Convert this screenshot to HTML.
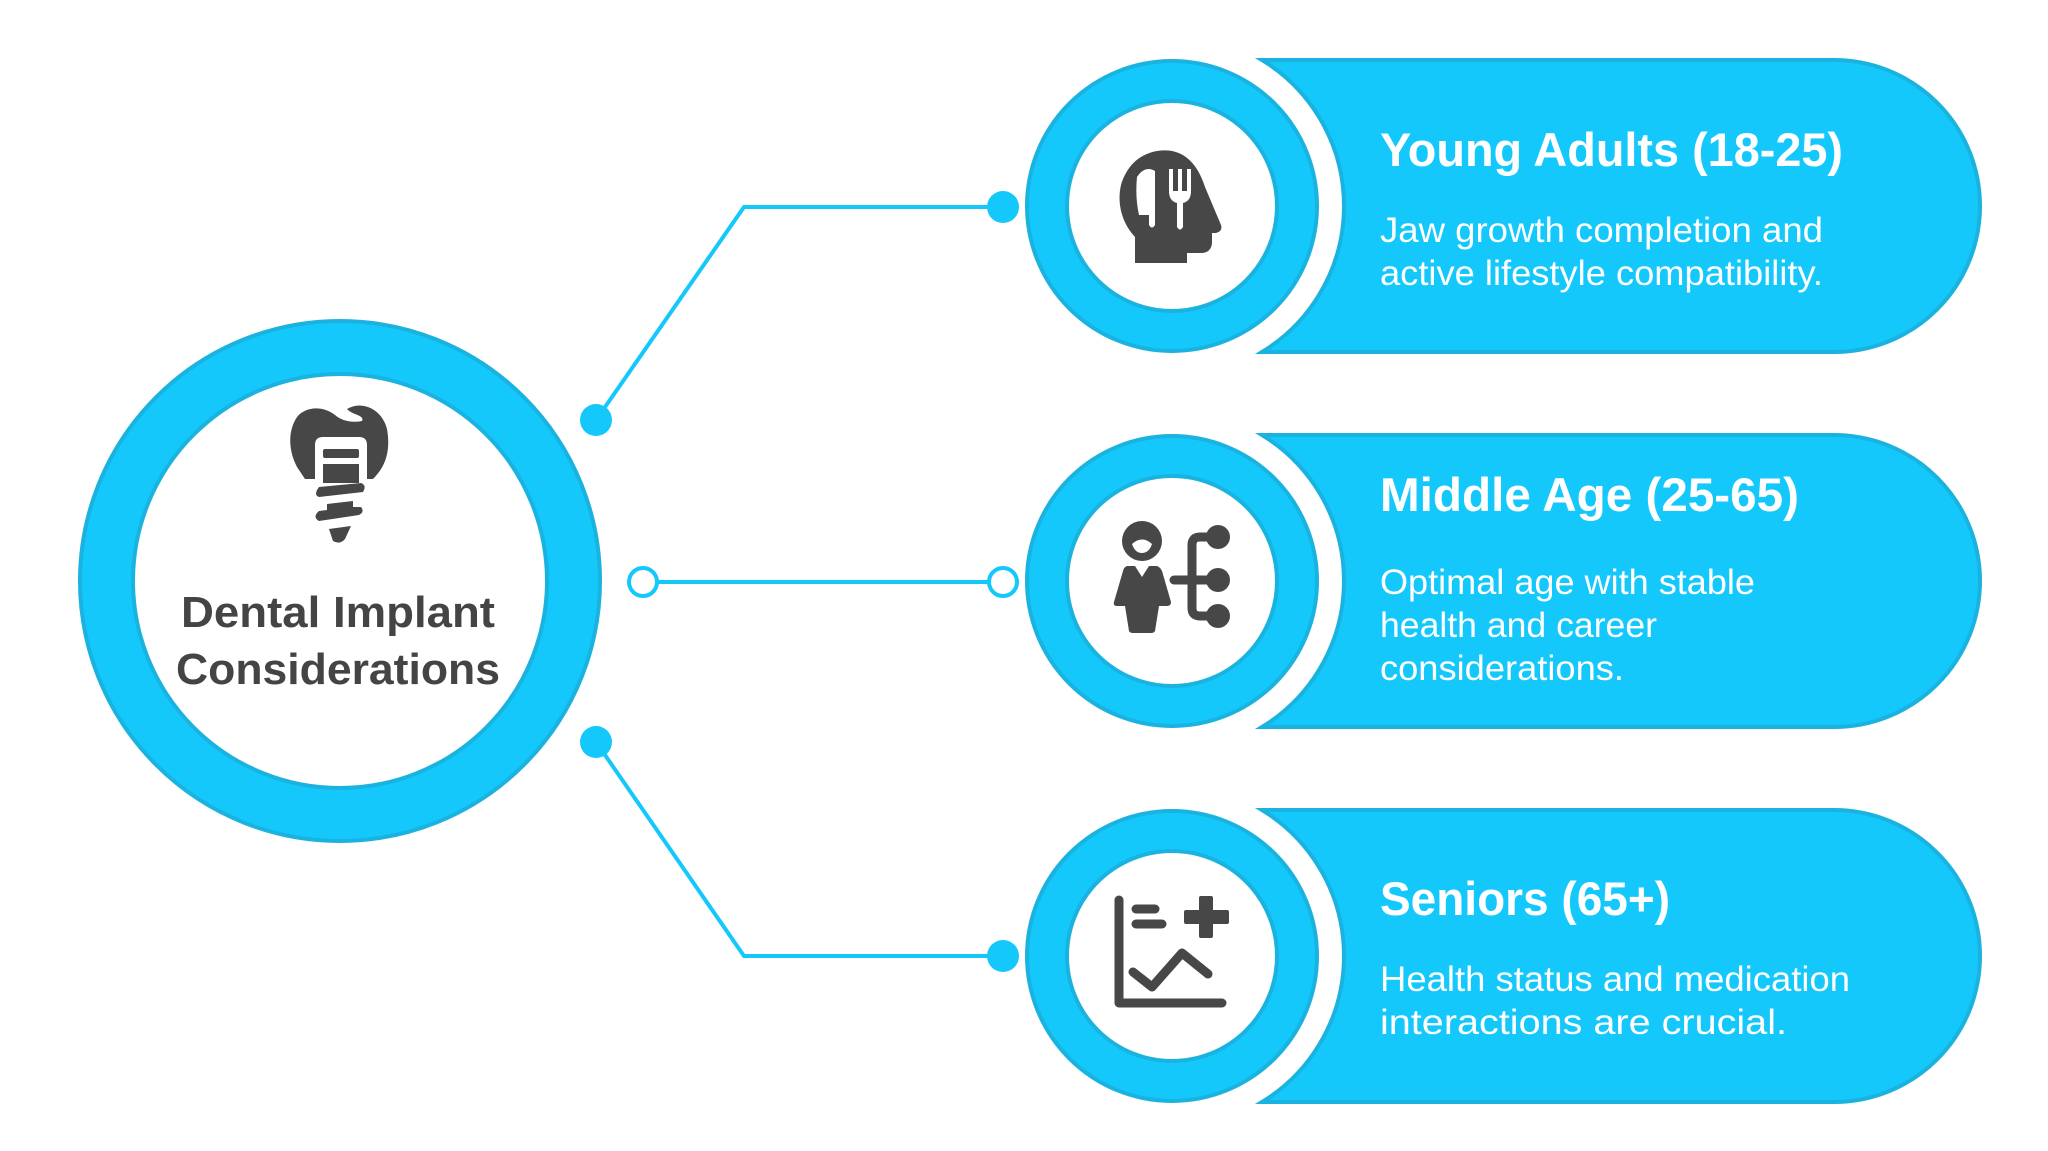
<!DOCTYPE html>
<html><head><meta charset="utf-8"><style>
html,body{margin:0;padding:0;background:#fff;}
svg{display:block}
text{font-family:"Liberation Sans",sans-serif;}
</style></head><body>
<svg width="2048" height="1151" viewBox="0 0 2048 1151" xmlns="http://www.w3.org/2000/svg">
<rect width="2048" height="1151" fill="#fff"/>
<g transform="translate(-3,-3)">
<g stroke="#14C8FC" stroke-width="4" fill="none">
<polyline points="599,423 747,210 1006,210"/>
<line x1="646" y1="585" x2="1006" y2="585"/>
<polyline points="599,745 747,959 1006,959"/>
</g>
<g fill="#14C8FC">
<circle cx="599" cy="423" r="16"/><circle cx="1006" cy="210" r="16"/>
<circle cx="599" cy="745" r="16"/><circle cx="1006" cy="959" r="16"/>
</g>
<circle cx="646" cy="585" r="14" fill="#fff" stroke="#14C8FC" stroke-width="4"/>
<circle cx="1006" cy="585" r="14" fill="#fff" stroke="#14C8FC" stroke-width="4"/>

<circle cx="343" cy="584" r="260" fill="#14C8FC" stroke="#1AB3E0" stroke-width="4"/>
<circle cx="343" cy="584" r="207" fill="#fff" stroke="#1AB3E0" stroke-width="4"/>
<g fill="#474747">
<path d="M300,420 C290,435 292,455 300,470 L308,482 L318,482 L318,448 Q318,440 326,440 L362,440 Q370,440 370,448 L370,482 L376,482 C388,470 394,455 390,432 C385,412 365,403 350,412 C355,418 368,418 365,424 C355,426 345,424 338,418 C325,408 308,410 300,420 Z"/>
<rect x="326" y="452" width="36" height="9" rx="2"/>
<path d="M326,467 L362,467 L362,486 L326,486 Z"/>
<path d="M322,490 L364,486 Q370,488 366,495 L322,500 Q316,498 322,490 Z"/>
<path d="M330,507 L356,504 L356,510 L364,510 Q368,515 362,518 L322,524 Q315,520 322,514 L330,513 Z"/>
<path d="M332,532 L354,529 L348,542 Q343,548 336,544 Z"/>
</g>
<text x="341" y="630" font-size="44" font-weight="bold" fill="#444" text-anchor="middle" textLength="314" lengthAdjust="spacingAndGlyphs">Dental Implant</text>
<text x="341" y="687" font-size="44" font-weight="bold" fill="#444" text-anchor="middle" textLength="324" lengthAdjust="spacingAndGlyphs">Considerations</text>

<g>
<path d="M1265,63 L1837,63 A146,146 0 0 1 1837,355 L1265,355 A171,171 0 0 0 1265,63 Z" fill="#14C8FC" stroke="#1AB3E0" stroke-width="4"/>
<circle cx="1175" cy="209" r="145" fill="#14C8FC" stroke="#1AB3E0" stroke-width="4"/>
<circle cx="1175" cy="209" r="105" fill="#fff" stroke="#1AB3E0" stroke-width="4"/>
</g>
<g>
<path d="M1265,438 L1837,438 A146,146 0 0 1 1837,730 L1265,730 A171,171 0 0 0 1265,438 Z" fill="#14C8FC" stroke="#1AB3E0" stroke-width="4"/>
<circle cx="1175" cy="584" r="145" fill="#14C8FC" stroke="#1AB3E0" stroke-width="4"/>
<circle cx="1175" cy="584" r="105" fill="#fff" stroke="#1AB3E0" stroke-width="4"/>
</g>
<g>
<path d="M1265,813 L1837,813 A146,146 0 0 1 1837,1105 L1265,1105 A171,171 0 0 0 1265,813 Z" fill="#14C8FC" stroke="#1AB3E0" stroke-width="4"/>
<circle cx="1175" cy="959" r="145" fill="#14C8FC" stroke="#1AB3E0" stroke-width="4"/>
<circle cx="1175" cy="959" r="105" fill="#fff" stroke="#1AB3E0" stroke-width="4"/>
</g>

<g fill="#474747">
<path d="M1160,154 C1185,150 1200,165 1208,190 L1224,228 Q1226,234 1219,236 L1215,236 L1215,246 Q1214,256 1204,256 L1190,256 L1190,266 L1138,266 L1138,240 C1124,225 1120,205 1124,188 C1130,168 1143,157 1160,154 Z"/>
</g>
<g fill="#fff">
<path d="M1140,180 Q1148,168 1158,174 L1158,228 Q1155,233 1152,228 L1152,218 L1142,218 Q1138,200 1140,180 Z"/>
<rect x="1172" y="172" width="4" height="24"/><rect x="1181" y="172" width="4" height="24"/><rect x="1190" y="172" width="4" height="24"/>
<path d="M1172,194 L1194,194 Q1194,204 1186,206 L1186,230 Q1183,235 1180,230 L1180,206 Q1172,204 1172,194 Z"/>
</g>

<g fill="#474747">
<circle cx="1145" cy="544" r="20"/>
<path d="M1130,569 L1138,569 L1145,580 L1152,569 L1160,569 Q1163,570 1165,574 L1174,605 Q1174,609 1170,609 L1162,609 L1158,634 Q1157,636 1154,636 L1136,636 Q1133,636 1132,634 L1128,609 L1120,609 Q1116,609 1117,605 L1126,574 Q1127,570 1130,569 Z"/>
<circle cx="1221" cy="540" r="12"/><circle cx="1221" cy="583" r="12"/><circle cx="1221" cy="619" r="12"/>
<path d="M1221,540 L1203,540 Q1195,540 1195,548 L1195,611 Q1195,619 1203,619 L1221,619 M1177,583 L1221,583" stroke="#474747" stroke-width="9" fill="none" stroke-linecap="round"/>
</g>
<g fill="#fff"><path d="M1135,547 Q1145,538 1155,547 Q1152,556 1145,556 Q1138,556 1135,547 Z"/></g>

<g stroke="#474747" stroke-width="9" fill="none" stroke-linecap="round" stroke-linejoin="round">
<polyline points="1122,903 1122,1006 1225,1006"/>
<line x1="1139" y1="912" x2="1158" y2="912"/>
<line x1="1139" y1="927" x2="1165" y2="927"/>
<polyline points="1136,975 1155,990 1185,956 1211,977"/>
</g>
<g fill="#474747">
<rect x="1202" y="899" width="14" height="42" rx="2"/>
<rect x="1187" y="913" width="45" height="14" rx="2"/>
</g>

<g fill="#fff">
<text x="1383" y="169" font-size="47" font-weight="bold" textLength="463" lengthAdjust="spacingAndGlyphs">Young Adults (18-25)</text>
<text x="1383" y="245" font-size="35" textLength="443" lengthAdjust="spacingAndGlyphs">Jaw growth completion and</text>
<text x="1383" y="288" font-size="35" textLength="443" lengthAdjust="spacingAndGlyphs">active lifestyle compatibility.</text>

<text x="1383" y="514" font-size="47" font-weight="bold" textLength="419" lengthAdjust="spacingAndGlyphs">Middle Age (25-65)</text>
<text x="1383" y="597" font-size="35" textLength="375" lengthAdjust="spacingAndGlyphs">Optimal age with stable</text>
<text x="1383" y="640" font-size="35" textLength="277" lengthAdjust="spacingAndGlyphs">health and career</text>
<text x="1383" y="683" font-size="35" textLength="244" lengthAdjust="spacingAndGlyphs">considerations.</text>

<text x="1383" y="918" font-size="47" font-weight="bold" textLength="290" lengthAdjust="spacingAndGlyphs">Seniors (65+)</text>
<text x="1383" y="994" font-size="35" textLength="470" lengthAdjust="spacingAndGlyphs">Health status and medication</text>
<text x="1383" y="1037" font-size="35" textLength="407" lengthAdjust="spacingAndGlyphs">interactions are crucial.</text>
</g>
</g>
</svg>
</body></html>
